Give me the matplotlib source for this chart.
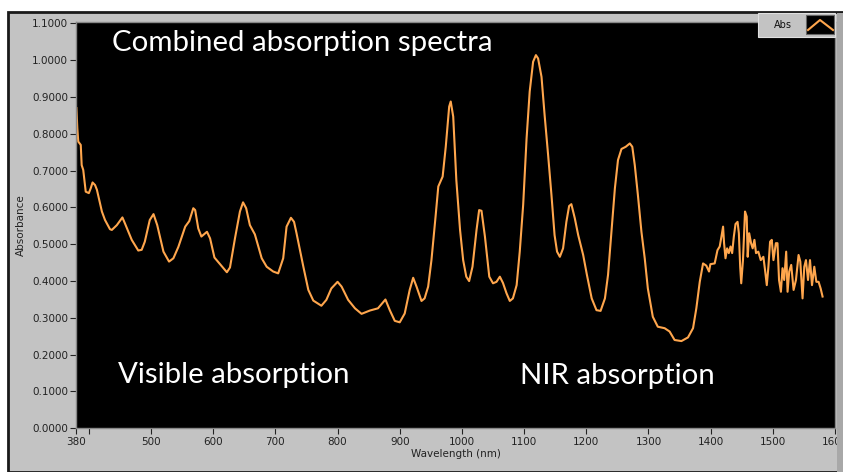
import matplotlib
matplotlib.use("Agg")
import matplotlib.pyplot as plt
from matplotlib.patches import Rectangle
from matplotlib.lines import Line2D

# spectrum (nm, absorbance)
wavelength = [380, 381.5, 383, 387, 388.5, 391, 395, 400, 403, 406, 410, 413, 421, 426, 434, 437,
              445, 454, 458, 469, 479.5, 485, 490, 498, 504, 510, 520, 529, 536, 544, 555, 561.5,
              568, 571, 576, 581, 590, 595, 602, 610, 622, 627, 635, 643, 648, 653, 659, 667,
              678, 686, 696.5, 704.5, 712.6, 718, 725, 730, 734, 745, 753, 761, 774, 782,
              790, 800, 806.5, 817, 828, 838.6, 852, 865, 877, 884, 892, 900, 908, 916,
              921.6, 927, 935, 940, 945.7, 951, 957.6, 962, 969, 974, 979.5, 982, 986, 991,
              997, 1002, 1007, 1011.6, 1017, 1023.5, 1027.7, 1031.5, 1037, 1044, 1050, 1055.6,
              1061, 1066, 1071.7, 1077, 1082, 1088, 1093, 1098.5, 1104, 1109, 1114.5, 1119,
              1122.5, 1128, 1133, 1138.6, 1144, 1149, 1153, 1157.5, 1162.7, 1168, 1172.4, 1176,
              1181.5, 1187, 1195, 1201, 1208.7, 1216.4, 1223, 1230, 1235, 1240.5, 1246, 1251,
              1256.6, 1263.5, 1270, 1274, 1278, 1283, 1288.7, 1294, 1299, 1307, 1315, 1326,
              1334, 1342, 1353, 1363.6, 1371.7, 1377, 1382.5, 1387.8, 1393, 1397.4, 1399.6, 1406.5,
              1411, 1414.6, 1417.4, 1420, 1421.6, 1423.9, 1426.5, 1429.2, 1432, 1434.6, 1437.3, 1440,
              1443.3, 1445.4, 1447.5, 1449.2, 1452, 1455.3, 1458, 1459.6, 1462, 1465, 1467.6, 1470.4,
              1473, 1476.7, 1480.6, 1484.8, 1487.5, 1490.3, 1492.9, 1495.6, 1498.3, 1501, 1504.9, 1507.5,
              1510, 1513, 1515.6, 1518.3, 1521.5, 1523.7, 1526.4, 1529.6, 1533.4, 1537.2, 1541.4, 1544.2,
              1547.8, 1550.6, 1553.3, 1556.6, 1559.8, 1563, 1566.7, 1570, 1573.6, 1576.9, 1580]
absorbance = [0.870, 0.815, 0.779, 0.770, 0.715, 0.702, 0.643, 0.639, 0.652, 0.668, 0.661, 0.648, 0.589, 0.566, 0.541, 0.539,
              0.552, 0.573, 0.557, 0.512, 0.483, 0.485, 0.507, 0.566, 0.582, 0.552, 0.480, 0.453, 0.462, 0.493, 0.548, 0.563,
              0.598, 0.593, 0.543, 0.521, 0.534, 0.516, 0.464, 0.448, 0.424, 0.437, 0.516, 0.589, 0.614, 0.598, 0.552, 0.527,
              0.462, 0.439, 0.426, 0.421, 0.462, 0.548, 0.572, 0.561, 0.530, 0.439, 0.376, 0.347, 0.333, 0.349,
              0.380, 0.398, 0.385, 0.349, 0.326, 0.311, 0.320, 0.326, 0.350, 0.321, 0.292, 0.288, 0.312, 0.376,
              0.409, 0.385, 0.346, 0.353, 0.385, 0.457, 0.575, 0.657, 0.684, 0.765, 0.874, 0.888, 0.847, 0.675,
              0.539, 0.457, 0.412, 0.400, 0.439, 0.539, 0.593, 0.591, 0.521, 0.412, 0.394, 0.398,
              0.412, 0.395, 0.367, 0.346, 0.353, 0.389, 0.480, 0.607, 0.788, 0.915, 0.996, 1.014,
              1.005, 0.955, 0.851, 0.743, 0.634, 0.525, 0.480, 0.466, 0.489, 0.561, 0.604, 0.609,
              0.571, 0.525, 0.471, 0.417, 0.353, 0.321, 0.319, 0.353, 0.417, 0.534, 0.652, 0.729,
              0.759, 0.765, 0.774, 0.765, 0.715, 0.634, 0.534, 0.462, 0.380, 0.303, 0.276, 0.272,
              0.263, 0.240, 0.237, 0.247, 0.272, 0.326, 0.398, 0.448, 0.442, 0.426, 0.446, 0.448,
              0.484, 0.494, 0.521, 0.548, 0.503, 0.462, 0.489, 0.476, 0.494, 0.476, 0.521, 0.555,
              0.561, 0.530, 0.439, 0.394, 0.457, 0.589, 0.575, 0.466, 0.530, 0.503, 0.489, 0.512,
              0.476, 0.480, 0.457, 0.466, 0.430, 0.389, 0.439, 0.507, 0.512, 0.457, 0.503, 0.503,
              0.403, 0.371, 0.435, 0.403, 0.480, 0.371, 0.426, 0.444, 0.376, 0.403, 0.471, 0.453,
              0.353, 0.439, 0.457, 0.403, 0.457, 0.389, 0.439, 0.398, 0.398, 0.380, 0.358]

yticks = [0.0, 0.1, 0.2, 0.3, 0.4, 0.5, 0.6, 0.7, 0.8, 0.9, 1.0, 1.1]
xticks = [380, 400, 500, 600, 700, 800, 900, 1000, 1100, 1200, 1300, 1400, 1500, 1600]
xticklabels = ["380", ""] + [str(t) for t in xticks[2:]]

W, H = 843, 472
fig = plt.figure(figsize=(W / 100, H / 100), dpi=100)
fig.patch.set_facecolor("white")

panel = "#c3c3c3"
orange = "#ffa64d"

def fx(px):
    return px / W

def fy(py):
    return 1 - py / H

# gray LabVIEW panel with dark frame
fig.patches.append(Rectangle((fx(8), 0), 1 - fx(8), fy(12), transform=fig.transFigure,
                             facecolor=panel, edgecolor="#1a1a1a", linewidth=2, zorder=-5))

ax = fig.add_axes([fx(76.4), fy(428.3), fx(835) - fx(76.4), fy(22) - fy(428.3)])
ax.set_zorder(1)
ax.set_facecolor("black")
ax.plot(wavelength, absorbance, color=orange, linewidth=1.5)

ax.set_xlim(380, 1600)
ax.set_ylim(0, 1.104)
ax.set_yticks(yticks)
ax.set_yticklabels(["%.4f" % v for v in yticks])
ax.set_xticks(xticks)
ax.set_xticklabels(xticklabels)
ax.tick_params(axis="both", labelsize=7.5, colors="#222222", length=4, width=0.8, pad=2)
for s in ax.spines.values():
    s.set_color("#888888")
    s.set_linewidth(1)

ax.set_xlabel("Wavelength (nm)", fontsize=7.5, labelpad=2, color="#222222")
ax.set_ylabel("Absorbance", fontsize=7.5, labelpad=4, color="#222222")

txt = dict(color="white", fontsize=21.2, family="Lato", va="baseline")
ax.text(437, 1.026, "Combined absorption spectra", **txt)
ax.text(447, 0.123, "Visible absorption", **txt)
ax.text(1093, 0.120, "NIR absorption", **txt)

# legend box in the top right corner
fig.patches.append(Rectangle((fx(758), fy(37)), fx(835) - fx(758), fy(13) - fy(37),
                             transform=fig.transFigure, facecolor=panel, edgecolor="#e0e0e0",
                             linewidth=0.8, zorder=5))
fig.text(fx(783), fy(25), "Abs", fontsize=7, va="center", ha="center", color="#111111", zorder=6)
fig.patches.append(Rectangle((fx(806), fy(34)), fx(834) - fx(806), fy(15) - fy(34),
                             transform=fig.transFigure, facecolor="black", edgecolor="#666666",
                             linewidth=0.8, zorder=6))
fig.lines.append(Line2D([fx(808), fx(820), fx(833)], [fy(30), fy(20), fy(30)],
                        transform=fig.transFigure, color=orange, linewidth=1.5, zorder=7))

# right edge strip that clips the last tick label
fig.patches.append(Rectangle((fx(837), 0), 1 - fx(837), fy(12) - 0.003, transform=fig.transFigure,
                             facecolor="#a8a8a8", edgecolor="none", zorder=8))

fig.savefig("out.png", dpi=100)
